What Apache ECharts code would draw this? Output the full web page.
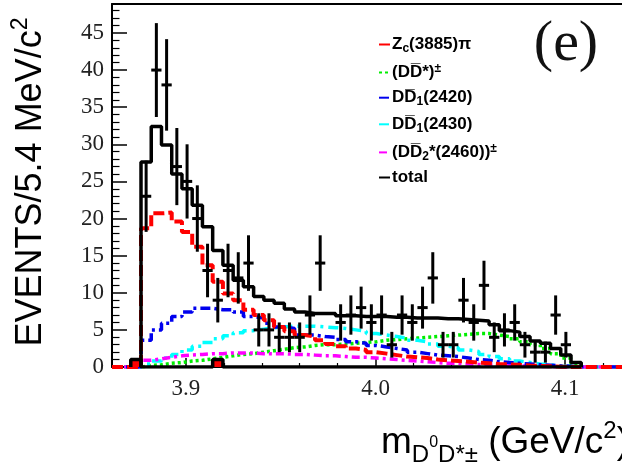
<!DOCTYPE html>
<html><head><meta charset="utf-8">
<script src="https://cdn.jsdelivr.net/npm/echarts@6/dist/echarts.min.js"></script>
<style>html,body{margin:0;padding:0;background:#fff}#c{width:622px;height:469px}</style>
</head><body><div id="c"></div>
<script>
// ---- binning (GeV/c^2) ----
const binStart = 3.8763;   // lower edge of first bin
const binWidth = 0.0054;   // 5.4 MeV/c^2

// ---- data: events per bin (k = 0..42) ----
const dataCounts = [23,40,38,27,25,20,13,9,13,12,14,5,5,4,4,4,7,14,0,6,7,8,6,7,3,7,6,8,12,3,3,9,6,11,4,5,6,3,2,2,7,3,0];

// ---- fit components per bin (k = 0..42) ----
const totalFit = [27.6,32.4,29.9,26.0,24.0,21.8,18.9,15.7,13.7,11.7,10.8,9.5,9.0,8.6,7.8,7.4,7.2,7.2,7.2,6.9,6.9,6.8,6.8,6.8,6.7,6.7,6.6,6.6,6.6,6.5,6.5,6.4,6.3,6.2,5.7,4.9,4.7,4.1,3.5,3.2,2.5,1.6,0.6];
const zcPi = [18.7,20.7,20.8,19.6,18.2,16.2,13.7,11.5,9.9,9.0,7.7,7.0,6.3,5.4,4.8,4.3,4.1,3.6,3.1,2.8,2.5,2.3,2.0,1.8,1.6,1.4,1.3,1.2,1.0,0.9,0.8,0.7,0.6,0.5,0.4,0.35,0.3,0.2,0.15,0.1,0.05,0,0];
const ddStar = [0.2,0.3,0.5,0.6,0.8,0.9,1.1,1.3,1.5,1.7,1.8,2.0,2.2,2.4,2.6,2.7,2.9,3.0,3.0,3.1,3.2,3.3,3.4,3.6,3.7,3.8,3.9,4.0,4.1,4.2,4.3,4.4,4.5,4.5,4.3,4.1,3.8,3.4,3.0,2.5,1.8,1.2,0.4];
const d2420 = [3.6,5.0,5.9,6.8,7.4,7.9,7.9,7.7,7.7,7.4,6.8,6.6,5.9,5.4,5.2,4.3,4.3,4.1,4.0,3.7,3.4,3.2,2.9,2.7,2.5,2.3,2.0,1.8,1.6,1.5,1.4,1.2,1.0,0.9,0.7,0.6,0.5,0.4,0.3,0.25,0.15,0.1,0];
const d2430 = [0.4,0.8,1.2,1.7,2.3,2.8,3.3,3.8,4.2,4.6,4.9,5.1,5.3,5.4,5.5,5.5,5.5,5.4,5.3,5.2,5.0,4.8,4.5,4.3,4.1,3.9,3.6,3.4,3.1,2.8,2.6,2.3,2.1,1.7,1.4,1.1,0.8,0.6,0.4,0.3,0.15,0.05,0];
const d2460 = [0.9,1.1,1.3,1.5,1.6,1.7,1.8,1.8,1.9,1.9,1.9,1.8,1.8,1.8,1.7,1.7,1.6,1.5,1.5,1.4,1.3,1.3,1.2,1.1,1.0,0.9,0.8,0.7,0.6,0.5,0.5,0.4,0.35,0.3,0.25,0.2,0.15,0.1,0.08,0.05,0.03,0,0];
// background histogram, starts one bin earlier (k = -1..42)
const bkgCounts = [1,0,0,0,0,0,0,0,1,0,0,0,0,0,0,0,0,0,0,0,0,0,0,0,0,0,0,0,0,0,0,0,0,0,0,0,0,0,0,0,0,0,0,0];

// ---- axes ----
const xMin = 3.861, xMax = 4.13;
const yMin = 0, yMax = 48.9;
const xLabels = [3.9, 4.0, 4.1];
const xMinorTicks = [3.88, 3.92, 3.94, 3.96, 3.98, 4.02, 4.04, 4.06, 4.08, 4.12];
const yLabels = [0, 5, 10, 15, 20, 25, 30, 35, 40, 45];
const yMinorTicks = [1,2,3,4,6,7,8,9,11,12,13,14,16,17,18,19,21,22,23,24,26,27,28,29,31,32,33,34,36,37,38,39,41,42,43,44,46,47,48];

function histPoints(vals, startEdge, extend) {
  const pts = [];
  if (extend) pts.push([xMin, 0]);
  pts.push([startEdge, 0]);
  vals.forEach((v, k) => pts.push([startEdge + binWidth * k, v]));
  pts.push([startEdge + binWidth * vals.length, 0]);
  if (extend) pts.push([xMax, 0]);
  return pts;
}

const chart = echarts.init(document.getElementById('c'), null, {renderer: 'canvas'});
const serif = 'Liberation Serif';
const sans = 'Liberation Sans';

const legendNames = ['zc', 'dds', 'd2420', 'd2430', 'd2460', 'total'];
const legendText = {
  zc: '{b|Z}{s|c}{b|(3885)\u03c0}',
  dds: '{b|(DD\u0305*)}{p|\u00b1}',
  d2420: '{b|DD\u0305}{s|1}{b|(2420)}',
  d2430: '{b|DD\u0305}{s|1}{b|(2430)}',
  d2460: '{b|(DD\u0305}{s|2}{b|*(2460))}{p|\u00b1}',
  total: '{b|total}'
};
const richLegend = {
  b: {fontFamily: sans, fontWeight: 'bold', fontSize: 17, color: '#000', lineHeight: 20},
  s: {fontFamily: sans, fontWeight: 'bold', fontSize: 12, color: '#000', lineHeight: 10, verticalAlign: 'bottom'},
  p: {fontFamily: sans, fontWeight: 'bold', fontSize: 12, color: '#000', lineHeight: 10, verticalAlign: 'top'}
};

function lineSeries(name, vals, color, type, width, z) {
  return {
    name, type: 'line', step: 'end', symbol: 'none', silent: true, animation: false,
    data: histPoints(vals, binStart, true),
    lineStyle: {color, width, type, cap: 'butt'}, itemStyle: {color}, z
  };
}

const option = {
  animation: false,
  backgroundColor: '#fff',
  grid: {left: 112, top: 4, width: 517, height: 363, containLabel: false},
  xAxis: [
    {type: 'value', min: xMin, max: xMax, position: 'bottom',
     axisLine: {show: true, onZero: false, lineStyle: {color: '#000', width: 2}},
     axisTick: {show: true, inside: true, length: 9, customValues: xLabels, lineStyle: {color: '#000', width: 1.5}},
     axisLabel: {customValues: xLabels, margin: 10, fontFamily: serif, fontSize: 23, color: '#222', formatter: v => v.toFixed(1)},
     splitLine: {show: false}},
    {type: 'value', min: xMin, max: xMax, position: 'bottom',
     axisLine: {show: false},
     axisTick: {show: true, inside: true, length: 4, customValues: xMinorTicks, lineStyle: {color: '#000', width: 1.2}},
     axisLabel: {show: false}, splitLine: {show: false}},
    {type: 'value', min: xMin, max: xMax, position: 'top',
     axisLine: {show: true, onZero: false, lineStyle: {color: '#000', width: 2}},
     axisTick: {show: false}, axisLabel: {show: false}, splitLine: {show: false}}
  ],
  yAxis: [
    {type: 'value', min: yMin, max: yMax, position: 'left',
     axisLine: {show: true, onZero: false, lineStyle: {color: '#000', width: 2}},
     axisTick: {show: true, inside: true, length: 15, customValues: yLabels, lineStyle: {color: '#000', width: 1.5}},
     axisLabel: {customValues: yLabels, margin: 8, fontFamily: serif, fontSize: 23, color: '#222'},
     splitLine: {show: false}},
    {type: 'value', min: yMin, max: yMax, position: 'left',
     axisLine: {show: false},
     axisTick: {show: true, inside: true, length: 7.5, customValues: yMinorTicks, lineStyle: {color: '#000', width: 1.2}},
     axisLabel: {show: false}, splitLine: {show: false}}
  ],
  legend: legendNames.map((n, i) => ({
    data: [n], left: 378, top: 36 + 26.6 * i, orient: 'vertical', padding: 0, itemGap: 0,
    itemWidth: 11, itemHeight: 8, selectedMode: false,
    itemStyle: {color: 'rgba(0,0,0,0)', borderWidth: 0},
    formatter: name => legendText[name],
    textStyle: {fontFamily: sans, fontWeight: 'bold', fontSize: 17, color: '#000', padding: [0, 0, 0, -3], rich: richLegend}
  })),
  graphic: [
    {type: 'text', x: 31, y: 182, rotation: Math.PI / 2, silent: true,
     style: {text: '{m|EVENTS/5.4 MeV/c}{u|2}', align: 'center', verticalAlign: 'middle', fill: '#000',
       rich: {m: {fontFamily: sans, fontSize: 36, lineHeight: 44, fill: '#000'},
              u: {fontFamily: sans, fontSize: 23, lineHeight: 23, verticalAlign: 'top', fill: '#000'}}}},
    {type: 'text', left: 381, top: 419, silent: true,
     style: {text: '{m|m}{s|D}{t|0}{s|D*\u00b1}{m| (GeV/c}{u|2}{m|)}', fill: '#000',
       rich: {m: {fontFamily: sans, fontSize: 37, lineHeight: 48, fill: '#000'},
              s: {fontFamily: sans, fontSize: 24, lineHeight: 24, verticalAlign: 'bottom', fill: '#000'},
              t: {fontFamily: sans, fontSize: 16, lineHeight: 16, verticalAlign: 'middle', fill: '#000'},
              u: {fontFamily: sans, fontSize: 24, lineHeight: 24, verticalAlign: 'top', fill: '#000'}}}},
    {type: 'text', x: 566, y: 45, silent: true,
     style: {text: '(e)', align: 'center', verticalAlign: 'middle', fontFamily: serif, fontSize: 58, fill: '#111'}}
  ],
  series: [
    lineSeries('dds', ddStar, '#00ee00', [3, 3], 3.5, 2),
    lineSeries('d2430', d2430, '#00ffff', [10, 5, 3, 5], 3.5, 2),
    lineSeries('d2460', d2460, '#ff00ff', [8, 4, 3, 4], 3.5, 2),
    lineSeries('d2420', d2420, '#0000ee', [10, 4, 3, 4], 3.5, 2),
    lineSeries('zc', zcPi, '#ff0000', [11, 4], 4, 3),
    {name: 'total', type: 'line', step: 'end', symbol: 'none', silent: true,
     data: histPoints(totalFit, binStart, false),
     lineStyle: {color: '#000', width: 3.5}, itemStyle: {color: '#000'}, z: 4},
    {name: 'bkg', type: 'line', step: 'end', symbol: 'none', silent: true,
     data: histPoints(bkgCounts, binStart - binWidth, false),
     lineStyle: {color: '#000', width: 3.5}, areaStyle: {color: '#ff0000', opacity: 1}, z: 4},
    {name: 'data', type: 'custom', silent: true, z: 5,
     data: dataCounts.map((v, k) => [binStart + binWidth * (k + 0.5), v]).filter(d => d[1] > 0),
     encode: {x: 0, y: 1},
     renderItem: (params, api) => {
       const c = api.value(0), v = api.value(1), e = Math.sqrt(v);
       const top = api.coord([c, v + e]), bot = api.coord([c, v - e]);
       const l = api.coord([c - binWidth / 2, v]), r = api.coord([c + binWidth / 2, v]);
       return {type: 'group', children: [
         {type: 'line', shape: {x1: top[0], y1: top[1], x2: bot[0], y2: bot[1]}, style: {stroke: '#000', lineWidth: 3}},
         {type: 'line', shape: {x1: l[0], y1: l[1], x2: r[0], y2: r[1]}, style: {stroke: '#000', lineWidth: 3}}
       ]};
     }}
  ]
};
chart.setOption(option);
</script></body></html>
